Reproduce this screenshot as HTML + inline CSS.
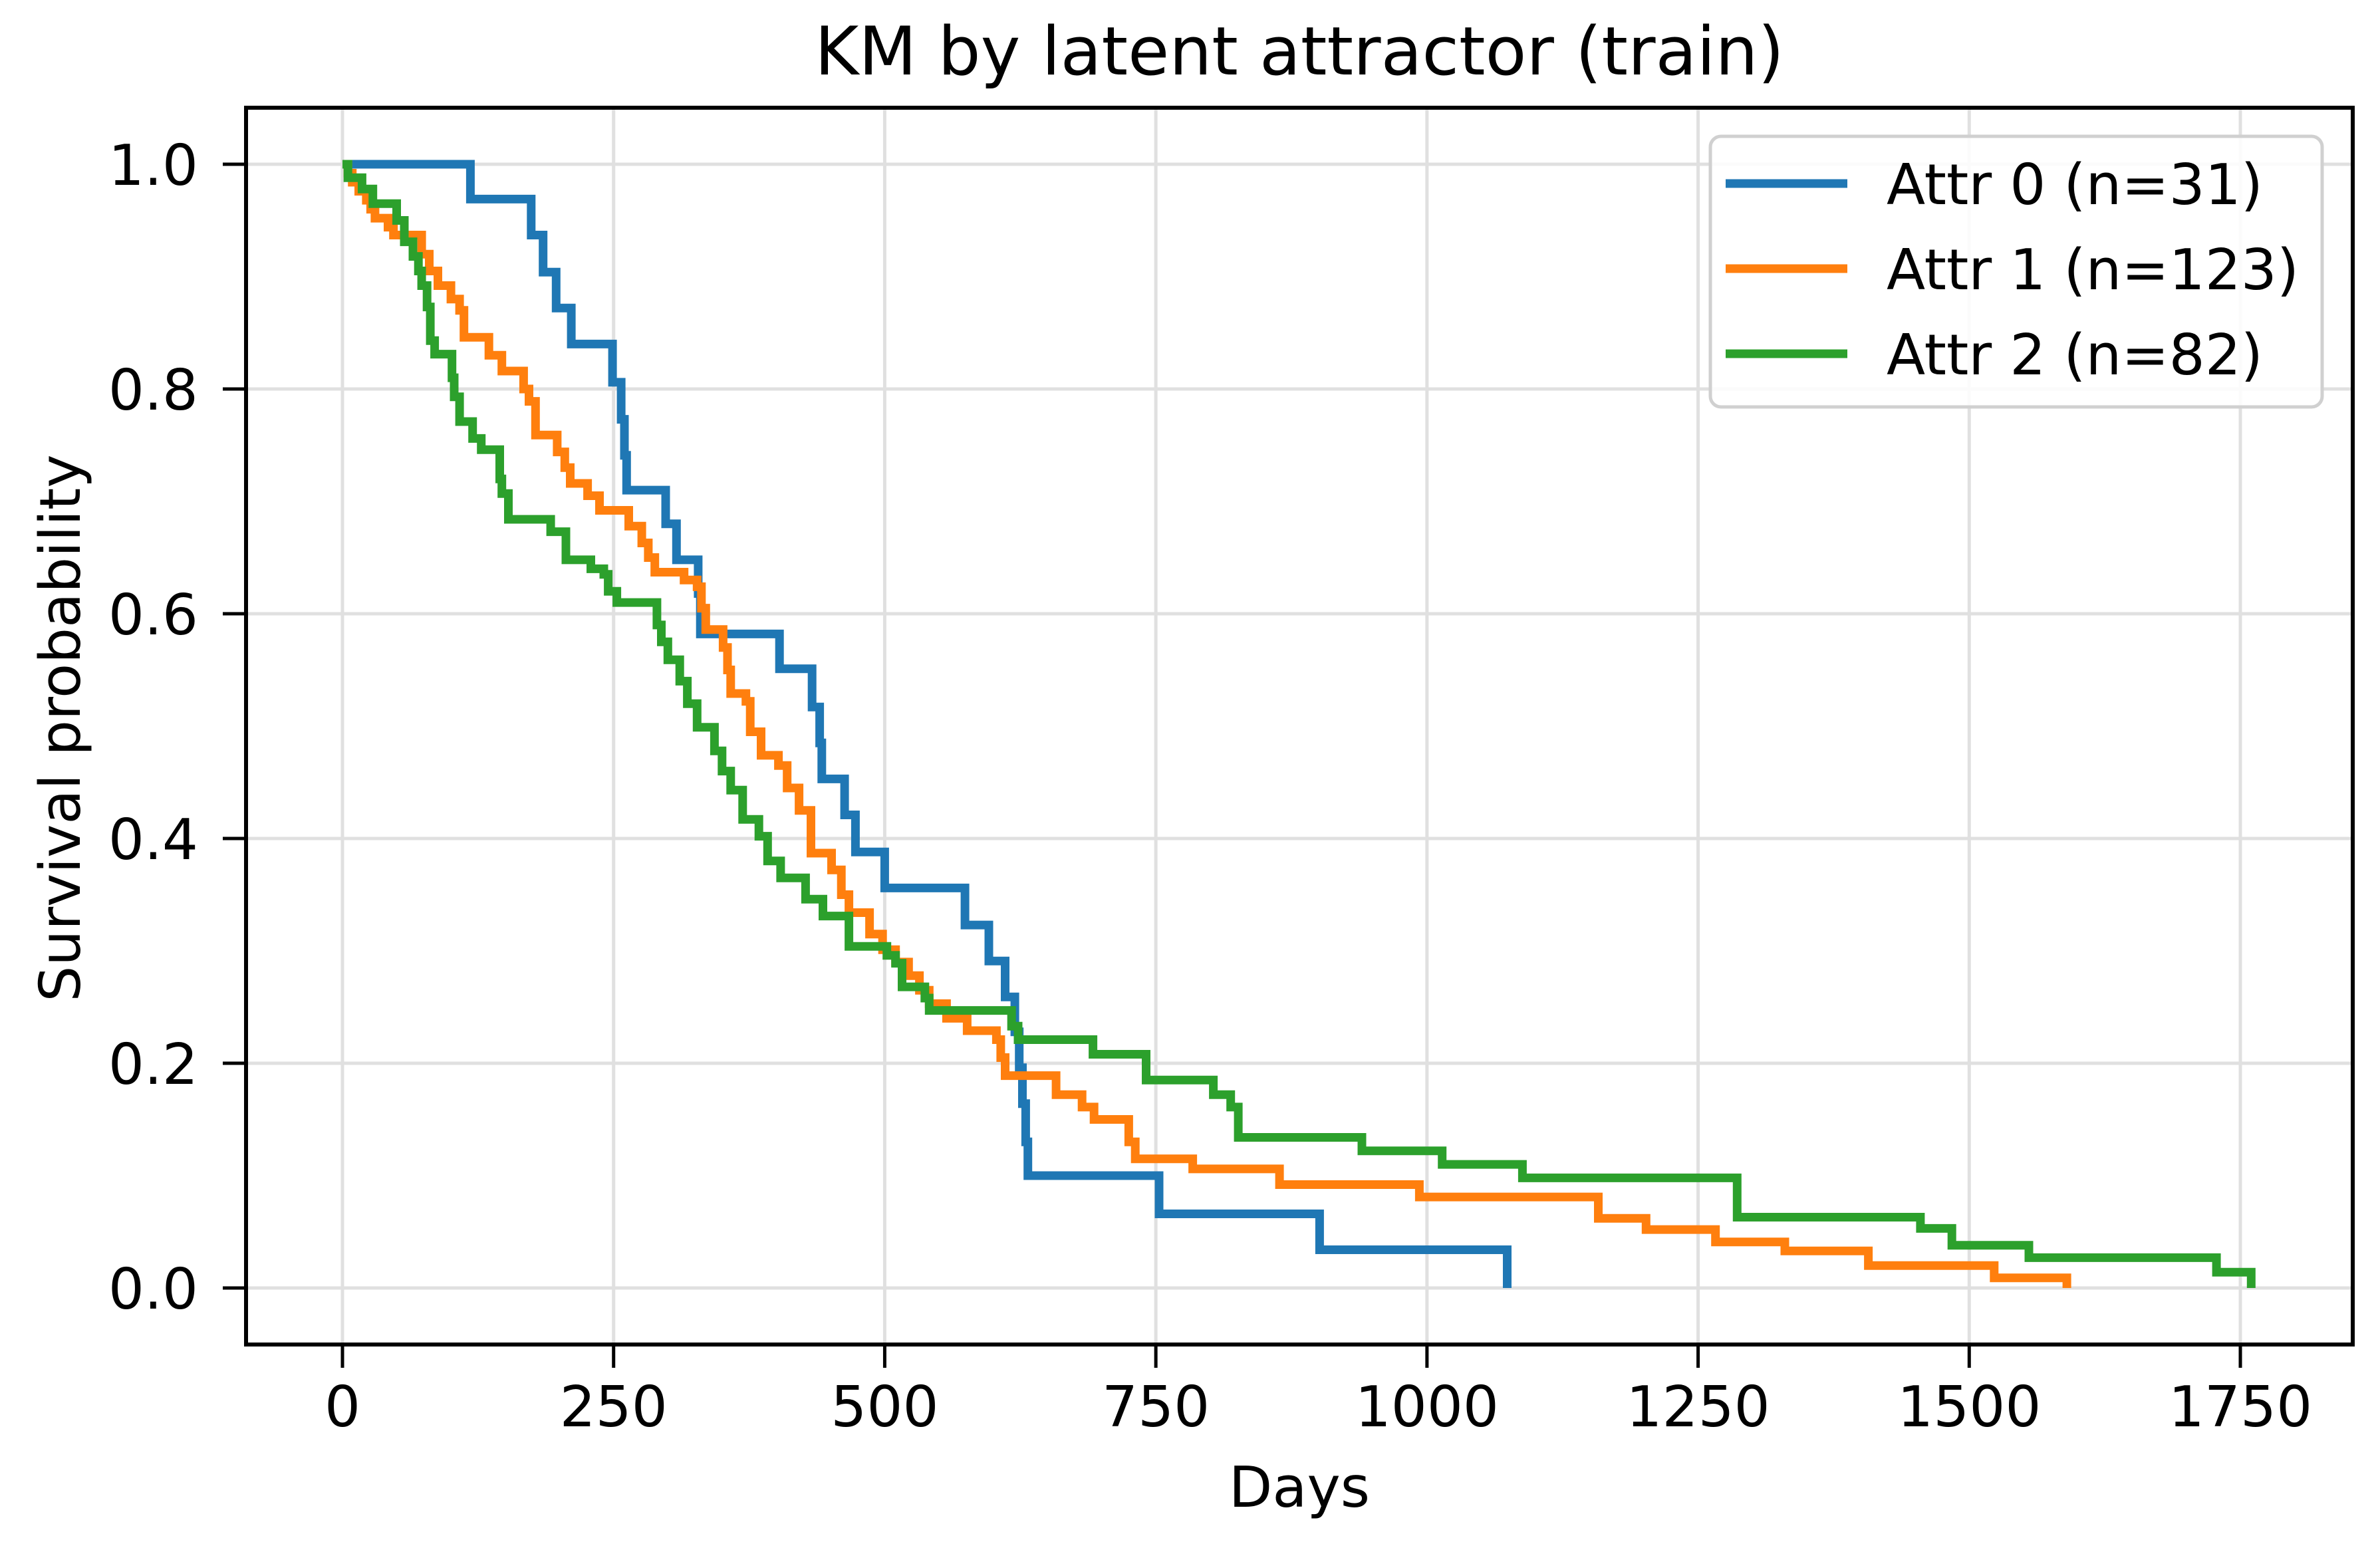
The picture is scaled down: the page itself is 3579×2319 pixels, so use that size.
<!DOCTYPE html>
<html><head><meta charset="utf-8"><style>
html,body{margin:0;padding:0;background:#fff}
svg{display:block}
text{font-family:"DejaVu Sans","Liberation Sans",sans-serif;fill:#000}
</style></head><body>
<svg id="chart" width="3579" height="2319" viewBox="0 0 3579 2319" xmlns="http://www.w3.org/2000/svg">
<rect width="3579" height="2319" fill="#fff"/>
<g id="grid"></g>
<g id="series"></g>
<rect x="370" y="162" width="3168" height="1860" fill="none" stroke="#000" stroke-width="6"/>
<g id="axes"></g>
<text x="1954" y="112" font-size="101" text-anchor="middle">KM by latent attractor (train)</text>
<text x="1954" y="2266" font-size="85" text-anchor="middle">Days</text>
<text transform="translate(120,1095) rotate(-90)" font-size="85" text-anchor="middle">Survival probability</text>
<g id="legend">
<rect x="2572" y="205" width="920" height="407" rx="16" fill="#fff" fill-opacity="0.85" stroke="#d0d0d0" stroke-width="5"/>
</g>
</svg>
<script>
const xTicks = [0,250,500,750,1000,1250,1500,1750];
const yTicks = [0,0.2,0.4,0.6,0.8,1.0];
const seriesNames = ["Attr 0 (n=31)","Attr 1 (n=123)","Attr 2 (n=82)"];
const attr0Times = [0,118,174,185,197,211,249,257,260,262,298,308,328,330,403,433,440,442,463,473,500,574,596,611,620,624,627,630,632,753,901,1074];
const attr0Surv  = [1,0.969,0.937,0.904,0.872,0.84,0.806,0.773,0.741,0.71,0.68,0.648,0.618,0.582,0.551,0.517,0.485,0.453,0.421,0.388,0.356,0.323,0.291,0.259,0.228,0.196,0.164,0.13,0.10,0.066,0.034,0];
const attr1Times = [0,5,9,15,22,26,30,42,47,73,80,88,100,108,112,135,147,167,172,178,198,205,210,226,237,264,276,282,288,315,327,331,335,351,355,358,372,376,386,402,410,421,432,451,460,467,486,498,510,522,532,541,557,576,603,607,611,658,682,693,725,731,784,864,993,1158,1202,1266,1330,1407,1523,1590];
const attr1Surv  = [1,0.992,0.984,0.976,0.968,0.96,0.952,0.944,0.937,0.92,0.905,0.892,0.88,0.87,0.846,0.83,0.816,0.8,0.789,0.759,0.744,0.73,0.716,0.705,0.692,0.678,0.663,0.65,0.637,0.63,0.624,0.605,0.586,0.57,0.55,0.529,0.522,0.495,0.474,0.465,0.445,0.425,0.387,0.372,0.35,0.334,0.315,0.301,0.29,0.278,0.265,0.253,0.24,0.229,0.221,0.205,0.189,0.172,0.161,0.15,0.13,0.115,0.106,0.092,0.081,0.062,0.052,0.041,0.033,0.02,0.009,0];
const attr2Times = [0,5,18,28,50,57,65,70,73,78,81,85,101,103,108,120,128,145,147,153,192,206,229,241,245,253,290,294,300,311,318,327,343,350,358,369,384,392,404,427,443,467,502,510,516,537,541,617,623,692,741,803,819,826,940,1014,1088,1286,1455,1484,1555,1728,1760];
const attr2Surv  = [1,0.988,0.978,0.965,0.95,0.931,0.918,0.905,0.892,0.873,0.843,0.831,0.81,0.793,0.771,0.756,0.746,0.72,0.707,0.684,0.673,0.648,0.64,0.635,0.62,0.61,0.59,0.575,0.559,0.54,0.52,0.499,0.478,0.46,0.443,0.417,0.402,0.38,0.365,0.346,0.331,0.304,0.296,0.289,0.268,0.258,0.247,0.233,0.221,0.208,0.185,0.172,0.161,0.134,0.122,0.11,0.098,0.063,0.053,0.038,0.027,0.014,0];

const NS = "http://www.w3.org/2000/svg";
const X0 = 515, XPD = (3369-515)/1750;
const Y1 = 247, Y0 = 1937;
function xs(d){ return X0 + d*XPD; }
function ys(s){ return Y0 - s*(Y0-Y1); }
function mk(tag, attrs, parent){
  const e = document.createElementNS(NS, tag);
  for (const k in attrs) e.setAttribute(k, attrs[k]);
  parent.appendChild(e);
  return e;
}
const grid = document.getElementById('grid');
const axes = document.getElementById('axes');
xTicks.forEach(t => {
  const g = mk('line', {x1:xs(t), x2:xs(t), y1:162, y2:2022, stroke:'#e0e0e0', 'stroke-width':5}, grid);
  
  
  const tk = mk('line', {x1:xs(t), x2:xs(t), y1:2022, y2:2057, stroke:'#000', 'stroke-width':5}, axes);
  
  
  const lb = mk('text', {x:xs(t), y:2145, 'font-size':85, 'text-anchor':'middle'}, axes);
  lb.textContent = String(t);
  
  
});
yTicks.forEach(t => {
  const g = mk('line', {x1:370, x2:3538, y1:ys(t), y2:ys(t), stroke:'#e0e0e0', 'stroke-width':5}, grid);
  
  
  const tk = mk('line', {x1:335, x2:370, y1:ys(t), y2:ys(t), stroke:'#000', 'stroke-width':5}, axes);
  
  
  const lb = mk('text', {x:298, y:ys(t)+31, 'font-size':85, 'text-anchor':'end'}, axes);
  lb.textContent = t.toFixed(1);
  
  
});
const colors = ['#1f77b4','#ff7f0e','#2ca02c'];
const allTimes = [attr0Times, attr1Times, attr2Times];
const allSurv = [attr0Surv, attr1Surv, attr2Surv];
const sg = document.getElementById('series');
const lg = document.getElementById('legend');
for (let k = 0; k < 3; k++) {
  const T = allTimes[k], S = allSurv[k];
  let d = 'M' + xs(T[0]) + ' ' + ys(S[0]);
  for (let i = 1; i < T.length; i++) {
    d += ' H' + xs(T[i]).toFixed(1) + ' V' + ys(S[i]).toFixed(1);
  }
  const p = mk('path', {d:d, fill:'none', stroke:colors[k], 'stroke-width':13, 'stroke-linejoin':'miter'}, sg);
  
  
  const ly = 276 + k*128;
  const ll = mk('line', {x1:2595, x2:2778, y1:ly, y2:ly, stroke:colors[k], 'stroke-width':13}, lg);
  
  
  const lt = mk('text', {x:2837, y:ly+31, 'font-size':85}, lg);
  lt.textContent = seriesNames[k];
  
  
}
</script>
</body></html>
